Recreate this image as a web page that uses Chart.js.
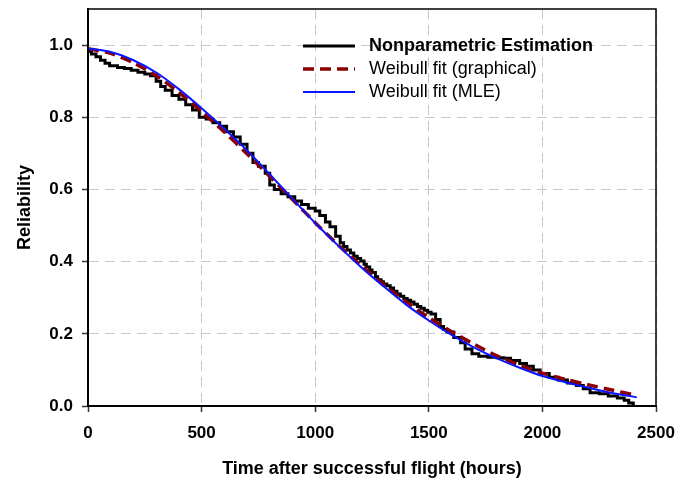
<!DOCTYPE html>
<html>
<head>
<meta charset="utf-8">
<script src="https://cdn.jsdelivr.net/npm/chart.js@4.4.0/dist/chart.umd.min.js"></script>
<style>
  html, body { margin: 0; padding: 0; background: #fff; }
</style>
</head>
<body>
<canvas id="chart" width="693" height="481"></canvas>
<script>
const seriesNames = ["Nonparametric Estimation", "Weibull fit (graphical)", "Weibull fit (MLE)"];

// nonparametric (stepped) estimate
const npTimes = [0, 15, 35, 55, 75, 95, 130, 160, 190, 220, 250, 275, 300, 320, 340, 370, 400, 430, 460, 490,
  520, 550, 580, 610, 640, 670, 700, 726, 750, 780, 800, 820, 850, 880, 910, 940, 970, 1000, 1020, 1045,
  1065, 1090, 1110, 1125, 1140, 1155, 1170, 1185, 1200, 1215, 1225, 1240, 1250, 1265, 1275, 1290, 1300, 1315, 1330, 1345,
  1360, 1375, 1390, 1405, 1420, 1435, 1450, 1465, 1480, 1495, 1510, 1530, 1550, 1565, 1580,
  1610, 1640, 1660, 1690, 1720, 1760, 1800, 1830, 1860, 1900, 1930, 1960, 1990, 2030, 2070, 2110, 2150, 2180, 2210, 2250,
  2290, 2330, 2360, 2380, 2400];
const npValues = [0.983, 0.975, 0.968, 0.958, 0.95, 0.943, 0.938, 0.935, 0.93, 0.925, 0.92, 0.915, 0.9, 0.885, 0.875, 0.86, 0.85, 0.835, 0.82, 0.8,
  0.795, 0.785, 0.775, 0.76, 0.745, 0.725, 0.7, 0.675, 0.664, 0.645, 0.612, 0.6, 0.588, 0.58, 0.568, 0.558, 0.548, 0.54, 0.528, 0.51,
  0.497, 0.47, 0.452, 0.442, 0.432, 0.424, 0.415, 0.409, 0.402, 0.393, 0.385, 0.377, 0.37, 0.358, 0.35, 0.344, 0.338, 0.333, 0.327, 0.318,
  0.31, 0.304, 0.298, 0.293, 0.288, 0.282, 0.276, 0.271, 0.265, 0.26, 0.255, 0.24, 0.22, 0.212, 0.205,
  0.19, 0.175, 0.158, 0.145, 0.138, 0.135, 0.134, 0.132, 0.126, 0.118, 0.11, 0.1, 0.09, 0.08, 0.072, 0.064, 0.057, 0.048, 0.037, 0.034,
  0.028, 0.022, 0.016, 0.008, 0.0];

// the two Weibull fits
const fitTimes = [0, 100, 200, 300, 400, 500, 600, 700, 800, 900, 1000, 1100, 1200, 1300, 1400, 1500, 1600, 1700, 1800, 1900, 2000, 2100, 2200, 2300, 2400, 2415];
const graphicalFit = [0.99, 0.977, 0.951, 0.915, 0.869, 0.816, 0.759, 0.699, 0.636, 0.572, 0.508, 0.447, 0.39, 0.337, 0.289, 0.245, 0.206, 0.171, 0.139, 0.113, 0.091, 0.074, 0.059, 0.045, 0.031, 0.029];
const mleFit = [0.99, 0.981, 0.958, 0.924, 0.878, 0.825, 0.768, 0.708, 0.642, 0.574, 0.507, 0.445, 0.386, 0.332, 0.281, 0.237, 0.197, 0.162, 0.132, 0.106, 0.083, 0.066, 0.051, 0.037, 0.026, 0.024];

const xTicks = [0, 500, 1000, 1500, 2000, 2500];
const yTicks = [0.0, 0.2, 0.4, 0.6, 0.8, 1.0];

const FONT = "'Liberation Sans', Arial, Helvetica, sans-serif";

function toPoints(xs, ys) {
  return xs.map((x, i) => ({ x: x, y: ys[i] }));
}

// full black frame + legend in the top right
const framePlugin = {
  id: "frame",
  afterDraw(chart) {
    const ctx = chart.ctx;
    const a = chart.chartArea;
    ctx.save();
    ctx.strokeStyle = "#000";
    ctx.lineWidth = 1.5;
    ctx.strokeRect(a.left, a.top, a.right - a.left, a.bottom - a.top);

    const x0 = a.left + 215, x1 = a.left + 267, tx = a.left + 281;
    let y = a.top + 37;
    chart.data.datasets.forEach((ds, i) => {
      ctx.beginPath();
      ctx.strokeStyle = ds.borderColor;
      ctx.lineWidth = ds.borderWidth;
      ctx.setLineDash(ds.borderDash || []);
      ctx.moveTo(x0, y);
      ctx.lineTo(x1, y);
      ctx.stroke();
      ctx.setLineDash([]);
      ctx.fillStyle = "#000";
      ctx.textBaseline = "middle";
      ctx.textAlign = "left";
      ctx.font = (i === 0 ? "bold " : "") + "18px " + FONT;
      ctx.fillText(ds.label, tx, y);
      y += 23;
    });
    ctx.restore();
  }
};

const gridOpts = {
  color: "#c8c8c8",
  lineWidth: 1,
  tickLength: 6,
  tickColor: "#333",
  tickWidth: 1.5
};
const borderOpts = { color: "#000", width: 2, dash: [10, 6] };

new Chart(document.getElementById("chart").getContext("2d"), {
  type: "line",
  data: {
    datasets: [
      {
        label: seriesNames[0],
        data: toPoints(npTimes, npValues),
        borderColor: "#000000",
        borderWidth: 3,
        stepped: true,
        pointRadius: 0,
        order: 3
      },
      {
        label: seriesNames[1],
        data: toPoints(fitTimes, graphicalFit),
        borderColor: "#8b0000",
        borderWidth: 3.5,
        borderDash: [11, 6],
        tension: 0.3,
        pointRadius: 0,
        order: 2
      },
      {
        label: seriesNames[2],
        data: toPoints(fitTimes, mleFit),
        borderColor: "#0a14ff",
        borderWidth: 2,
        tension: 0.3,
        pointRadius: 0,
        order: 1
      }
    ]
  },
  options: {
    responsive: false,
    animation: false,
    layout: { padding: { left: 0, right: 37, top: 9, bottom: 0 } },
    plugins: {
      legend: { display: false },
      tooltip: { enabled: false }
    },
    scales: {
      x: {
        type: "linear",
        min: 0,
        max: 2500,
        afterBuildTicks: s => { s.ticks = xTicks.map(v => ({ value: v })); },
        afterFit: s => { s.height = 75; s.paddingLeft = 0; s.paddingRight = 0; },
        grid: gridOpts,
        border: borderOpts,
        ticks: {
          color: "#000",
          padding: 11,
          maxRotation: 0,
          callback: v => String(v),
          font: { family: FONT, size: 17, weight: "bold" }
        },
        title: {
          display: true,
          text: "Time after successful flight (hours)",
          color: "#000",
          padding: { top: 0, bottom: 1 },
          font: { family: FONT, size: 18, weight: "bold" }
        }
      },
      y: {
        min: 0,
        max: 1.1,
        afterBuildTicks: s => { s.ticks = yTicks.map(v => ({ value: v })); },
        afterFit: s => { s.width = 88; s.paddingTop = 0; s.paddingBottom = 0; },
        grid: gridOpts,
        border: borderOpts,
        ticks: {
          color: "#000",
          padding: 9,
          callback: v => Number(v).toFixed(1),
          font: { family: FONT, size: 17, weight: "bold" }
        },
        title: {
          display: true,
          text: "Reliability",
          color: "#000",
          padding: { top: 14, bottom: 0 },
          font: { family: FONT, size: 18, weight: "bold" }
        }
      }
    }
  },
  plugins: [framePlugin]
});
</script>
</body>
</html>
